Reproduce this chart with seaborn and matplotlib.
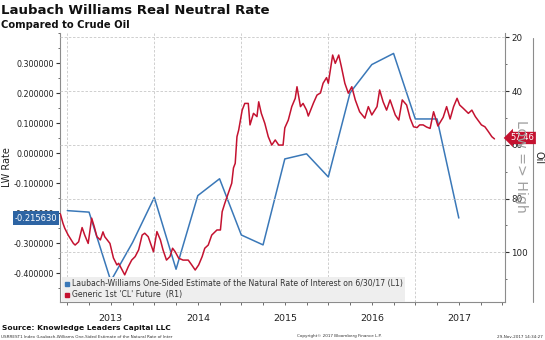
import numpy as np
import pandas as pd
import matplotlib
matplotlib.use("Agg")
import matplotlib.pyplot as plt
import matplotlib.transforms as mtransforms
from matplotlib.lines import Line2D
from matplotlib.ticker import MultipleLocator, FixedLocator, FormatStrFormatter, NullFormatter
import seaborn as sns

# ---------------- data ----------------
lw_t = [2013.00, 2013.25, 2013.50, 2013.75, 2014.00, 2014.25, 2014.50, 2014.75,
        2015.00, 2015.25, 2015.50, 2015.75, 2016.00, 2016.25, 2016.50, 2016.75,
        2017.00, 2017.25, 2017.50]
lw_v = [-0.191, -0.196, -0.425, -0.297, -0.147, -0.386, -0.141, -0.085,
        -0.272, -0.305, -0.019, -0.002, -0.079, 0.201, 0.295, 0.332,
        0.114, 0.114, -0.21563]

oil_t = [2012.92, 2012.95, 2012.97, 2013.01, 2013.07, 2013.09, 2013.13, 2013.17, 2013.20, 2013.24,
         2013.28, 2013.31, 2013.34, 2013.38, 2013.41, 2013.43, 2013.49, 2013.53, 2013.57, 2013.59,
         2013.63, 2013.66, 2013.70, 2013.74, 2013.78, 2013.82, 2013.86, 2013.89, 2013.93, 2013.97,
         2013.99, 2014.03, 2014.07, 2014.10, 2014.14, 2014.18, 2014.21, 2014.24, 2014.28, 2014.33,
         2014.39, 2014.43, 2014.47, 2014.51, 2014.55, 2014.58, 2014.62, 2014.66, 2014.72, 2014.76,
         2014.78, 2014.81, 2014.85, 2014.89, 2014.91, 2014.93, 2014.95, 2014.97, 2015.01, 2015.04,
         2015.08, 2015.10, 2015.14, 2015.18, 2015.20, 2015.23, 2015.27, 2015.31, 2015.35, 2015.39,
         2015.43, 2015.48, 2015.50, 2015.54, 2015.58, 2015.62, 2015.64, 2015.68, 2015.71, 2015.75,
         2015.77, 2015.83, 2015.87, 2015.91, 2015.94, 2015.98, 2016.00, 2016.05, 2016.08, 2016.12,
         2016.15, 2016.19, 2016.23, 2016.27, 2016.31, 2016.36, 2016.42, 2016.46, 2016.50, 2016.56,
         2016.59, 2016.63, 2016.67, 2016.71, 2016.77, 2016.81, 2016.85, 2016.90, 2016.94, 2016.98,
         2017.02, 2017.05, 2017.09, 2017.13, 2017.17, 2017.21, 2017.26, 2017.32, 2017.36, 2017.40,
         2017.44, 2017.48, 2017.51, 2017.55, 2017.61, 2017.65, 2017.69, 2017.72, 2017.76, 2017.80,
         2017.84, 2017.88, 2017.91]
oil_v = [85.7, 89.2, 91.0, 93.6, 96.7, 97.3, 96.1, 90.8, 93.6, 96.7,
         87.3, 90.5, 94.2, 95.4, 92.4, 94.2, 96.7, 102.1, 104.7, 104.1,
         106.6, 108.4, 105.4, 102.9, 101.6, 99.1, 93.6, 92.9, 94.2, 97.9,
         99.8, 92.3, 95.4, 99.1, 102.9, 101.6, 98.5, 99.8, 102.2, 102.9,
         102.9, 104.7, 106.6, 104.7, 101.6, 98.5, 97.3, 93.6, 91.7, 91.7,
         84.9, 81.8, 78.0, 74.3, 68.6, 66.9, 57.0, 54.5, 47.1, 44.6,
         44.6, 52.6, 48.3, 49.5, 44.0, 48.3, 52.0, 57.0, 60.1, 58.2,
         60.1, 60.1, 53.7, 50.8, 45.8, 42.7, 38.4, 45.8, 44.6, 47.1,
         49.3, 44.4, 41.5, 40.7, 37.1, 35.0, 37.1, 26.6, 29.7, 26.6,
         30.9, 37.1, 40.8, 38.4, 43.3, 47.7, 50.1, 45.8, 48.9, 45.8,
         39.6, 44.0, 47.1, 43.3, 48.9, 50.8, 43.3, 45.2, 50.1, 53.3,
         53.6, 52.6, 52.6, 53.4, 53.9, 47.7, 53.0, 49.8, 45.8, 50.4,
         45.8, 42.7, 45.2, 46.4, 48.3, 47.1, 49.5, 50.8, 52.6, 53.3,
         55.1, 57.0, 57.8]

years = [2013, 2014, 2015, 2016, 2017]
lw_last_label = "-0.215630"
oil_last_label = "57.46"
oil_last = 57.46

lw_name = "Laubach-Williams One-Sided Estimate of the Natural Rate of Interest on 6/30/17 (L1)"
oil_name = "Generic 1st 'CL' Future  (R1)"

# ---------------- style ----------------
sns.set_style("white")
plt.rcParams['font.family'] = ['DejaVu Sans']

BLUE = '#3a78b8'
RED = '#c41230'
TAGBLUE = '#2d64a3'
GRID = '#c8c8c8'
SPINE = '#8c8c8c'

fig = plt.figure(figsize=(5.45, 3.40), dpi=100)
ax = fig.add_axes([60/545, 1-302/340, 445/545, 269/340])
ax2 = ax.twinx()

lw_df = pd.DataFrame({'t': lw_t, 'v': lw_v})
oil_df = pd.DataFrame({'t': oil_t, 'v': oil_v})

sns.lineplot(data=lw_df, x='t', y='v', ax=ax, color=BLUE, linewidth=1.1, legend=False)
sns.lineplot(data=oil_df, x='t', y='v', ax=ax2, color=RED, linewidth=1.1, legend=False)

ax.set_xlim(2012.916, 2018.031)
ax.set_ylim(-0.495, 0.40)
ax2.set_ylim(118.5, 18.4)

for a in (ax, ax2):
    a.set_xlabel('')
    a.set_ylabel('')
    a.set_facecolor('none')
    for s in a.spines.values():
        s.set_visible(False)

ax.spines['left'].set_visible(True)
ax.spines['left'].set_color(SPINE)
ax.spines['bottom'].set_visible(True)
ax.spines['bottom'].set_color(SPINE)
ax2.spines['right'].set_visible(True)
ax2.spines['right'].set_color(SPINE)

# left axis ticks
ax.yaxis.set_major_locator(FixedLocator([-0.4, -0.3, -0.2, -0.1, 0.0, 0.1, 0.2, 0.3]))
ax.yaxis.set_minor_locator(MultipleLocator(0.05))
ax.yaxis.set_major_formatter(FormatStrFormatter('%.6f'))
ax.tick_params(axis='y', which='major', left=True, length=3, width=0.8, color='#333333',
               labelsize=5.8, pad=1.5, labelcolor='#222222')
ax.tick_params(axis='y', which='minor', left=True, length=1.5, width=0.6, color='#555555')

# right axis ticks
ax2.yaxis.set_major_locator(FixedLocator([20, 40, 60, 80, 100]))
ax2.yaxis.set_minor_locator(FixedLocator([30, 50, 70, 90, 110]))
ax2.tick_params(axis='y', which='major', right=True, length=3, width=0.8, color='#333333',
                labelsize=6.3, pad=1.5, labelcolor='#222222')
ax2.tick_params(axis='y', which='minor', right=True, length=1.5, width=0.6, color='#555555')

# x axis: year separators + quarter ticks, labels at year centres
ax.xaxis.set_major_locator(FixedLocator([2013, 2014, 2015, 2016, 2017, 2018]))
ax.xaxis.set_minor_locator(MultipleLocator(0.25))
ax.xaxis.set_major_formatter(NullFormatter())
ax.tick_params(axis='x', which='major', bottom=True, length=18, width=0.7, color='#a8a8a8')
ax.tick_params(axis='x', which='minor', bottom=True, length=2, width=0.6, color='#555555')
ax2.tick_params(axis='x', which='both', bottom=False, top=False)
ax2.set_xticks([])

trans = mtransforms.blended_transform_factory(ax.transData, ax.transAxes)
for y in years:
    ax.text(y + 0.5, -0.06, str(y), transform=trans, ha='center', va='center',
            fontsize=6.8, color='#222222')

# grid: vertical at year boundaries, horizontal at oil ticks
for y in [2013, 2014, 2015, 2016, 2017]:
    ax.axvline(y, color=GRID, lw=0.6, ls=(0, (3, 2)), zorder=0)
for o in [20, 40, 60, 80, 100]:
    ax2.axhline(o, color=GRID, lw=0.6, ls=(0, (3, 2)), zorder=0)
ax.set_zorder(1)
ax2.set_zorder(2)

# axis titles
fig.text(7/545, 1-167/340, 'LW Rate', rotation=90, ha='center', va='center', fontsize=7, color='#222222')
fig.text(521/545, 1-166/340, 'Low => High', rotation=270, ha='center', va='center',
         fontsize=10.2, color='#a0a0a0')
fig.text(539/545, 1-158/340, 'Oil', rotation=270, ha='center', va='center', fontsize=7, color='#222222')
fig.add_artist(Line2D([533/545, 533/545], [1-38/340, 1-302/340], transform=fig.transFigure,
                      color=SPINE, lw=0.8))

# last value tags
transL = mtransforms.blended_transform_factory(ax.transAxes, ax.transData)
ax.text(-0.006, lw_v[-1], lw_last_label, transform=transL, ha='right', va='center',
        fontsize=6, color='white', zorder=10, clip_on=False,
        bbox=dict(boxstyle='square,pad=0.25', fc=TAGBLUE, ec='none'))
transR = mtransforms.blended_transform_factory(ax2.transAxes, ax2.transData)
ax2.text(1.012, oil_last, oil_last_label, transform=transR, ha='left', va='center',
         fontsize=6, color='white', zorder=10, clip_on=False,
         bbox=dict(boxstyle='larrow,pad=0.2', fc=RED, ec='none'))

# legend
handles = [Line2D([], [], ls='none', marker='s', markersize=3.5, color=BLUE),
           Line2D([], [], ls='none', marker='s', markersize=3.5, color=RED)]
leg = ax2.legend(handles, [lw_name, oil_name], loc='lower left', bbox_to_anchor=(0.004, 0.0),
                 borderaxespad=0, frameon=True, fancybox=False, fontsize=5.6,
                 handlelength=0.6, handletextpad=0.3, borderpad=0.35, labelspacing=0.25,
                 facecolor='#eeeeee', edgecolor='none', framealpha=1)
for t in leg.get_texts():
    t.set_color('#333333')

# titles
fig.text(0.002, 1-11/340, 'Laubach Williams Real Neutral Rate', fontsize=9.5, fontweight='bold',
         ha='left', va='center', color='#111111')
fig.text(0.002, 1-25/340, 'Compared to Crude Oil', fontsize=7.2, fontweight='bold',
         ha='left', va='center', color='#111111')

# footer
fig.text(0.004, 1-328/340, 'Source: Knowledge Leaders Capital LLC', fontsize=5.4, fontweight='bold',
         ha='left', va='center', color='#111111')
fig.text(0.002, 1-336.5/340, 'USRREST1 Index (Laubach-Williams One-Sided Estimate of the Natural Rate of Inter',
         fontsize=3.0, ha='left', va='center', color='#333333')
fig.text(297/545, 1-336.5/340, 'Copyright\u00a9 2017 Bloomberg Finance L.P.', fontsize=3.0,
         ha='left', va='center', color='#333333')
fig.text(543/545, 1-336.5/340, '29-Nov-2017 14:34:27', fontsize=3.0, ha='right', va='center',
         color='#333333')

fig.savefig('out.png', dpi=100)
